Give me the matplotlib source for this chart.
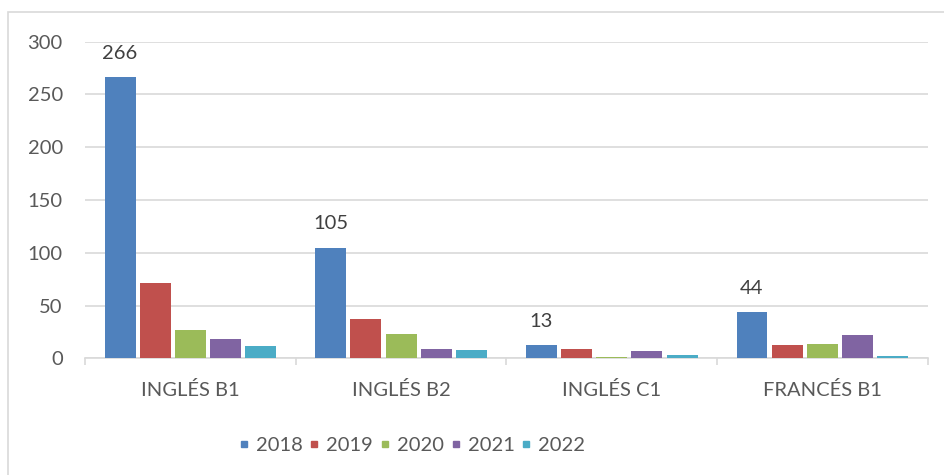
import matplotlib.pyplot as plt
from matplotlib.lines import Line2D
from matplotlib.patches import Rectangle
import numpy as np

plt.rcParams['font.family'] = ['Lato', 'DejaVu Sans']

# Data
categories = ['INGLÉS B1', 'INGLÉS B2', 'INGLÉS C1', 'FRANCÉS B1']
years = ['2018', '2019', '2020', '2021', '2022']
v2018 = [266, 105, 13, 44]
v2019 = [71, 37, 9, 13]
v2020 = [27, 23, 1, 14]
v2021 = [18, 9, 7, 22]
v2022 = [12, 8, 3, 2]
labels_2018 = ['266', '105', '13', '44']

series = [v2018, v2019, v2020, v2021, v2022]
colors = ['#4F81BD', '#C0504D', '#9BBB59', '#8064A2', '#4BACC6']

fig = plt.figure(figsize=(9.45, 4.75), dpi=100)
ax = fig.add_axes([0.09, 0.2453, 0.8917, 0.6673])

x = np.arange(len(categories))
pitch = 0.167
for i, vals in enumerate(series):
    ax.bar(x + (i - 2) * pitch, vals, width=0.147, color=colors[i], zorder=3)

# labels above the 2018 bars
for xi, v, lab in zip(x, v2018, labels_2018):
    ax.annotate(lab, (xi - 2 * pitch, v), xytext=(0, 17), textcoords='offset points',
                ha='center', va='center', fontsize=14.5, color='#404040')

ax.set_xlim(-0.5, 3.5)
ax.set_ylim(0, 300)
ax.set_yticks(range(0, 301, 50))
ax.yaxis.grid(True, color='#d9d9d9', linewidth=1.2, zorder=0)
for s in ['top', 'right', 'left']:
    ax.spines[s].set_visible(False)
ax.spines['bottom'].set_color('#d9d9d9')
ax.spines['bottom'].set_linewidth(1.2)

ax.set_xticks(x)
ax.set_xticklabels(categories)
ax.set_xticks(np.arange(-0.5, 3.6, 1), minor=True)
ax.tick_params(axis='x', which='major', length=0, pad=16.5, labelsize=14.5, labelcolor='#595959')
ax.tick_params(axis='x', which='minor', length=5, width=1.2, color='#d9d9d9')
ax.tick_params(axis='y', length=0, pad=16, labelsize=14.5, labelcolor='#595959')

handles = [Line2D([], [], marker='s', ls='', color=c, markersize=5) for c in colors]
fig.legend(handles, years, loc='center', bbox_to_anchor=(0.436, 0.063), ncol=5,
           frameon=False, fontsize=14.5, labelcolor='#595959', handlelength=0.5,
           handletextpad=0.35, columnspacing=0.33)

# chart border
fig.add_artist(Rectangle((8 / 945, -0.1), 1.0, 1 - 12 / 475 + 0.1, transform=fig.transFigure,
                         fill=False, edgecolor='#d9d9d9', linewidth=1.2))

fig.savefig('out.png', dpi=100)
